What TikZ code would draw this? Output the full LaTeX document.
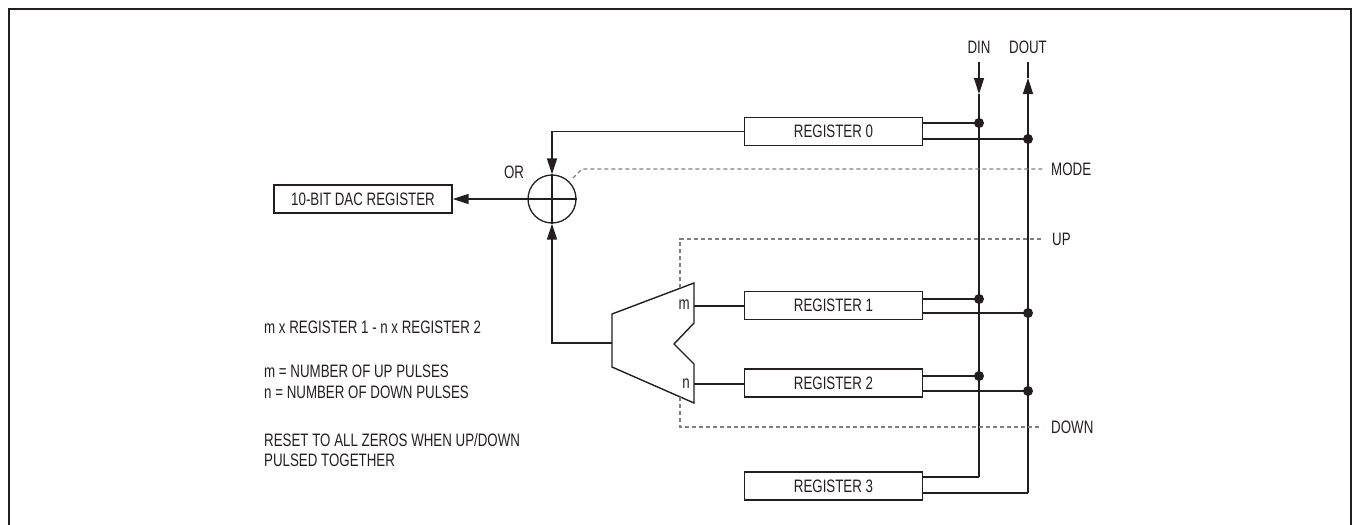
\documentclass[tikz,border=0pt]{standalone}
\usepackage{fontspec}
\setmainfont[FakeStretch=0.74]{Liberation Sans}
\usetikzlibrary{arrows.meta,calc}
\definecolor{ink}{HTML}{231F20}
\definecolor{dashgray}{HTML}{7F7F7F}
\begin{document}
\begin{tikzpicture}[x=1pt,y=-1pt,
  every node/.style={font=\fontsize{18}{21}\selectfont, text=ink},
  regbox/.style={draw=ink, line width=1.3pt, minimum width=178pt, minimum height=28pt, inner sep=0pt},
  wire/.style={draw=ink, line width=1.4pt},
  ctl/.style={draw=dashgray, line width=1.1pt, dash pattern=on 4pt off 3pt},
  tip/.style={-{Triangle[length=16pt,width=10pt]}},
  junction/.style={circle, fill=ink, inner sep=0pt, minimum size=10pt},
  lbl/.style={inner sep=0pt}
]
\useasboundingbox (0,0) rectangle (1353,525);
% frame
\draw[ink, line width=2pt] (9,530) -- (9,9) -- (1351,9) -- (1351,530);

% registers
\node[regbox] (reg0) at (833.5,131.5) {REGISTER 0};
\node[regbox] (reg1) at (833.5,305.5) {REGISTER 1};
\node[regbox] (reg2) at (833.5,383) {REGISTER 2};
\node[regbox] (reg3) at (833.5,486) {REGISTER 3};
\node[regbox] (dac) at (363,199) {10-BIT DAC REGISTER};

% OR element
\node[draw=ink, line width=1.3pt, circle, minimum size=48pt, inner sep=0pt] (or) at (552,199) {};
\node[lbl] (orlbl) at (514,172) {OR};
\draw[wire] (or.north) -- (or.south);
\draw[wire] (or.west) -- (or.east);

% DIN / DOUT
\node[lbl] (din) at (979,47) {DIN};
\node[lbl] (dout) at (1028,47) {DOUT};
\coordinate (dintop) at (979,62);
\coordinate (dinarrow) at (979,94);
\coordinate (dinbot) at (979,477);
\coordinate (douttop) at (1028,62);
\coordinate (doutarrow) at (1028,78);
\coordinate (doutbot) at (1028,493);

\coordinate (j0i) at (979,123);
\coordinate (j0o) at (1028,139);
\coordinate (j1i) at (979,299);
\coordinate (j1o) at (1028,313);
\coordinate (j2i) at (979,376);
\coordinate (j2o) at (1028,391);

\draw[wire, tip] (dintop) -- (dinarrow);
\draw[wire] (dinarrow) -- (dinbot);
\draw[wire, tip] (doutbot) -- (doutarrow);
\draw[wire] (doutarrow) -- (douttop);

\draw[wire] (reg0.east |- j0i) -- (j0i);
\draw[wire] (reg0.east |- j0o) -- (j0o);
\draw[wire] (reg1.east |- j1i) -- (j1i);
\draw[wire] (reg1.east |- j1o) -- (j1o);
\draw[wire] (reg2.east |- j2i) -- (j2i);
\draw[wire] (reg2.east |- j2o) -- (j2o);
\draw[wire] (reg3.east |- dinbot) -- (dinbot);
\draw[wire] (reg3.east |- doutbot) -- (doutbot);

\node[junction] (d0i) at (j0i) {};
\node[junction] (d0o) at (j0o) {};
\node[junction] (d1i) at (j1i) {};
\node[junction] (d1o) at (j1o) {};
\node[junction] (d2i) at (j2i) {};
\node[junction] (d2o) at (j2o) {};

% register 0 to OR, OR to DAC
\draw[wire, tip] (reg0.west) -| (or.north);
\draw[wire, tip] (or.west) -- (dac.east);

% mux
\coordinate (m1) at (612,314);
\coordinate (m2) at (694,283);
\coordinate (m3) at (694,323);
\coordinate (m4) at (674,344);
\coordinate (m5) at (694,364);
\coordinate (m6) at (694,403);
\coordinate (m7) at (612,367);
\draw[wire, line join=miter] (m1) -- (m2) -- (m3) -- (m4) -- (m5) -- (m6) -- (m7) -- cycle;
\coordinate (muxout) at (612,343);
\draw[wire, tip] (muxout) -| (or.south);
\coordinate (mport) at (694,306);
\coordinate (nport) at (694,384);
\draw[wire] (mport) -- (reg1.west |- mport);
\draw[wire] (nport) -- (reg2.west |- nport);
\node[lbl, anchor=east] (mlbl) at (690,305) {m};
\node[lbl, anchor=east] (nlbl) at (690,384) {n};

% control lines
\coordinate (modes) at (573,178);
\coordinate (modek) at (582,169);
\coordinate (modeend) at (1045,169);
\draw[ctl] (modes) -- (modek) -- (modeend);
\node[lbl, anchor=west] (mode) at (1051,169) {MODE};

\coordinate (upv) at (680,288.3);
\coordinate (upc) at (680,239);
\coordinate (upend) at (1043,239);
\draw[ctl] (upv) -- (upc) -- (upend);
\node[lbl, anchor=west] (up) at (1052,239) {UP};

\coordinate (downv) at (680,397);
\coordinate (downc) at (680,427);
\coordinate (downend) at (1042,427);
\draw[ctl] (downv) -- (downc) -- (downend);
\node[lbl, anchor=west] (down) at (1051,427) {DOWN};

% notes
\node[lbl, anchor=base west] (t1) at (264,333) {m x REGISTER 1 - n x REGISTER 2};
\node[lbl, anchor=base west] (t2) at (264,377) {m = NUMBER OF UP PULSES};
\node[lbl, anchor=base west] (t3) at (264,398.5) {n = NUMBER OF DOWN PULSES};
\node[lbl, anchor=base west] (t4) at (264,446) {RESET TO ALL ZEROS WHEN UP/DOWN};
\node[lbl, anchor=base west] (t5) at (264,466.5) {PULSED TOGETHER};
\end{tikzpicture}
\end{document}
